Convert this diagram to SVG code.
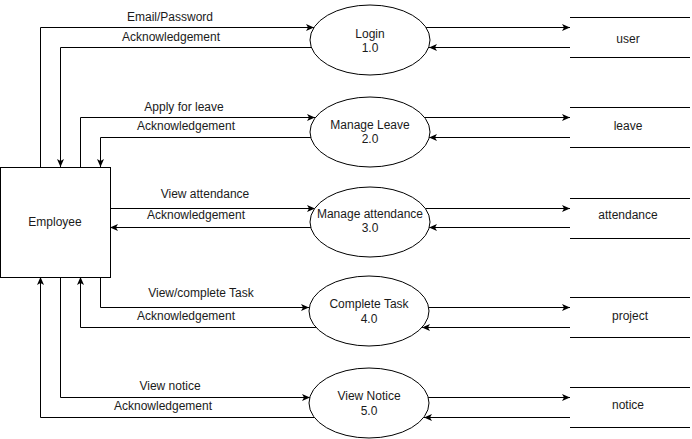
<svg xmlns="http://www.w3.org/2000/svg" width="692" height="439" viewBox="0 0 692 439">
<defs>
<marker id="arr" markerWidth="8" markerHeight="8" refX="8" refY="3.5" orient="auto" markerUnits="userSpaceOnUse">
<path d="M0,0 L8,3.5 L0,7 L2,3.5 Z" fill="#000"/>
</marker>
<style>
.ln{fill:none;stroke:#000;stroke-width:1}
.shp{fill:#fff;stroke:#000;stroke-width:1}
.t{font-family:"Liberation Sans",Arial,sans-serif;font-size:12px;fill:#1a1a1a;text-anchor:middle}
</style>
</defs>
<rect width="692" height="439" fill="#fff"/>
<g id="connectors">
<!-- Row 1 -->
<path class="ln" d="M40.5,167 V27.5 H314" marker-end="url(#arr)"/>
<path class="ln" d="M311,47.5 H60.5 V167" marker-end="url(#arr)"/>
<path class="ln" d="M426,27.5 H570" marker-end="url(#arr)"/>
<path class="ln" d="M570,47.5 H429" marker-end="url(#arr)"/>
<!-- Row 2 -->
<path class="ln" d="M80.5,167 V117.5 H315" marker-end="url(#arr)"/>
<path class="ln" d="M311,137.5 H100.5 V167" marker-end="url(#arr)"/>
<path class="ln" d="M424,117.5 H570" marker-end="url(#arr)"/>
<path class="ln" d="M570,137.5 H429" marker-end="url(#arr)"/>
<!-- Row 3 -->
<path class="ln" d="M110,208.5 H315" marker-end="url(#arr)"/>
<path class="ln" d="M311,227.5 H110" marker-end="url(#arr)"/>
<path class="ln" d="M425,208.5 H570" marker-end="url(#arr)"/>
<path class="ln" d="M570,227.5 H429" marker-end="url(#arr)"/>
<!-- Row 4 -->
<path class="ln" d="M100.5,277 V307.5 H309" marker-end="url(#arr)"/>
<path class="ln" d="M316,327.5 H80.5 V277" marker-end="url(#arr)"/>
<path class="ln" d="M429,307.5 H570" marker-end="url(#arr)"/>
<path class="ln" d="M570,327.5 H422" marker-end="url(#arr)"/>
<!-- Row 5 -->
<path class="ln" d="M60.5,277 V397.5 H310" marker-end="url(#arr)"/>
<path class="ln" d="M314,417.5 H40.5 V277" marker-end="url(#arr)"/>
<path class="ln" d="M428,397.5 H570" marker-end="url(#arr)"/>
<path class="ln" d="M570,417.5 H424" marker-end="url(#arr)"/>
</g>
<g id="labels">
<text class="t" x="170" y="21">Email/Password</text>
<text class="t" x="171" y="41">Acknowledgement</text>
<text class="t" x="184" y="111">Apply for leave</text>
<text class="t" x="186" y="130">Acknowledgement</text>
<text class="t" x="205" y="198">View attendance</text>
<text class="t" x="196" y="219">Acknowledgement</text>
<text class="t" x="201" y="297">View/complete Task</text>
<text class="t" x="186" y="320">Acknowledgement</text>
<text class="t" x="170" y="390">View notice</text>
<text class="t" x="163" y="410">Acknowledgement</text>
</g>
<g id="employee">
<rect class="shp" x="0.5" y="167.5" width="110" height="110"/>
<text class="t" x="55" y="226">Employee</text>
</g>
<g id="p1">
<ellipse class="shp" cx="370" cy="40" rx="60" ry="35"/>
<text class="t" x="370" y="38">Login</text>
<text class="t" x="370" y="52">1.0</text>
</g>
<g id="p2">
<ellipse class="shp" cx="370" cy="132" rx="60" ry="35"/>
<text class="t" x="370" y="129">Manage Leave</text>
<text class="t" x="370" y="143">2.0</text>
</g>
<g id="p3">
<ellipse class="shp" cx="370" cy="222" rx="60" ry="35"/>
<text class="t" x="370" y="218">Manage attendance</text>
<text class="t" x="370" y="232">3.0</text>
</g>
<g id="p4">
<ellipse class="shp" cx="369" cy="311" rx="60" ry="35"/>
<text class="t" x="369" y="308">Complete Task</text>
<text class="t" x="369" y="323">4.0</text>
</g>
<g id="p5">
<ellipse class="shp" cx="369" cy="403" rx="60" ry="35"/>
<text class="t" x="369" y="400">View Notice</text>
<text class="t" x="369" y="415">5.0</text>
</g>
<g id="s1">
<path class="ln" d="M570,17.5 H690 M570,57.5 H690"/>
<text class="t" x="628" y="43">user</text>
</g>
<g id="s2">
<path class="ln" d="M570,107.5 H690 M570,147.5 H690"/>
<text class="t" x="628" y="130">leave</text>
</g>
<g id="s3">
<path class="ln" d="M570,198.5 H690 M570,238.5 H690"/>
<text class="t" x="628" y="219">attendance</text>
</g>
<g id="s4">
<path class="ln" d="M570,297.5 H690 M570,337.5 H690"/>
<text class="t" x="630" y="320">project</text>
</g>
<g id="s5">
<path class="ln" d="M570,387.5 H690 M570,427.5 H690"/>
<text class="t" x="628" y="409">notice</text>
</g>
</svg>
